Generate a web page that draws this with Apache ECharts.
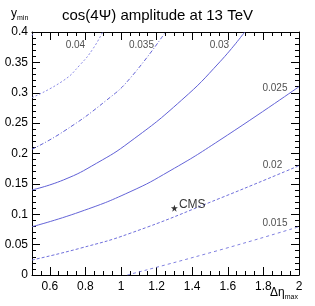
<!DOCTYPE html>
<html>
<head>
<meta charset="utf-8">
<script src="https://cdn.jsdelivr.net/npm/echarts@6/dist/echarts.min.js"></script>
<style>html,body{margin:0;padding:0;background:#fff;}#c{width:315px;height:306px;}</style>
</head>
<body>
<div id="c"></div>
<script>
// ---- data ----
const titleText = 'cos(4\u03A8) amplitude at 13 TeV';
const contourLevels = ['0.045', '0.04', '0.035', '0.03', '0.025', '0.02', '0.015'];
const c045X = [0.5, 0.511];
const c045Y = [0.394, 0.4];
const c040X = [0.5, 0.676, 0.77, 0.844, 0.9];
const c040Y = [0.292, 0.320, 0.346, 0.373, 0.402];
const c035X = [0.5, 0.676, 0.92, 1.051, 1.25];
const c035Y = [0.207, 0.236, 0.288, 0.3238, 0.4];
const c030X = [0.5, 0.676, 0.863, 1.051, 1.341, 1.556, 1.695];
const c030Y = [0.14, 0.1564, 0.184, 0.2194, 0.288, 0.351, 0.4];
const c025X = [0.5, 0.77, 1.051, 1.275, 1.556, 2.0];
const c025Y = [0.0795, 0.104, 0.137, 0.1715, 0.2222, 0.31];
const c020X = [0.5, 0.77, 1.051, 1.556, 2.0];
const c020Y = [0.0247, 0.044, 0.0686, 0.1263, 0.18];
const c015X = [1.035, 1.556, 2.0];
const c015Y = [0, 0.0412, 0.0795];
const cmsPoint = [1.3, 0.11];
const cmsLabel = 'CMS';
const xTickLabels = [0.6, 0.8, 1.0, 1.2, 1.4, 1.6, 1.8, 2.0];
const yTickLabels = [0, 0.05, 0.1, 0.15, 0.2, 0.25, 0.3, 0.35, 0.4];

// ---- chart ----
const zip = (xs, ys) => xs.map((x, i) => [x, ys[i]]);
const curves = [
  {x: c045X, y: c045Y, type: [2, 2], color: '#8a8ae6'},
  {x: c040X, y: c040Y, type: [2, 2], color: '#8a8ae6'},
  {x: c035X, y: c035Y, type: [4, 2, 1, 2], color: '#6363d6'},
  {x: c030X, y: c030Y, type: 'solid', color: '#6060d6'},
  {x: c025X, y: c025Y, type: 'solid', color: '#6464d8'},
  {x: c020X, y: c020Y, type: [3, 2], color: '#7070dc'},
  {x: c015X, y: c015Y, type: [3, 3], color: '#8080e0'}
];
// label anchors (data coordinates) for contour values, matched by level index
const labelAnchors = [null, [0.744, 0.378], [1.115, 0.378], [1.553, 0.378], [1.865, 0.307], [1.851, 0.181], [1.865, 0.0848]];

const FONT = 'Liberation Sans';
const baseX = {type: 'value', min: 0.5, max: 2, gridIndex: 0, splitLine: {show: false}};
const baseY = {type: 'value', min: 0, max: 0.4, gridIndex: 0, splitLine: {show: false}};
const line = {show: true, lineStyle: {color: '#000', width: 1}};

const series = curves.map((c, i) => ({
  type: 'line', data: zip(c.x, c.y), smooth: 0.5, symbol: 'none', clip: true,
  lineStyle: {color: c.color, width: 1, type: c.type}, silent: true, z: 3
}));
series.push({
  type: 'scatter', symbolSize: 0, silent: true, z: 4,
  data: contourLevels.map((t, i) => labelAnchors[i] ? [labelAnchors[i][0], labelAnchors[i][1], t] : null).filter(Boolean),
  label: {show: true, position: 'inside', formatter: p => p.data[2], fontFamily: FONT, fontSize: 10, color: '#222'}
});
series.push({
  type: 'scatter', silent: true, z: 5,
  symbol: 'path://M0,-10 L2.35,-3.24 L9.51,-3.09 L3.8,1.24 L5.88,8.09 L0,4 L-5.88,8.09 L-3.8,1.24 L-9.51,-3.09 L-2.35,-3.24 Z',
  symbolSize: 7, itemStyle: {color: '#000'},
  data: [[cmsPoint[0], cmsPoint[1], cmsLabel]],
  label: {show: true, position: 'right', distance: 1, formatter: p => p.data[2], fontFamily: FONT, fontSize: 12, color: '#000', offset: [0, -3]}
});

const chart = echarts.init(document.getElementById('c'), null, {renderer: 'canvas'});
chart.setOption({
  animation: false,
  backgroundColor: '#fff',
  title: {text: titleText, left: 'center', top: 3, textStyle: {fontFamily: FONT, fontSize: 15, fontWeight: 'normal', color: '#000'}},
  grid: {left: 32, top: 32, right: 16, bottom: 31, containLabel: false},
  xAxis: [
    Object.assign({}, baseX, {position: 'bottom', interval: 0.05, axisLine: line,
      axisTick: {show: true, inside: true, length: 4, lineStyle: {color: '#000'}},
      axisLabel: {show: true, customValues: xTickLabels, margin: 6, fontFamily: FONT, fontSize: 12, color: '#000', formatter: v => String(+v.toFixed(2))}}),
    Object.assign({}, baseX, {position: 'bottom', axisLine: {show: false},
      axisTick: {show: true, inside: true, length: 8, customValues: xTickLabels, lineStyle: {color: '#000'}},
      axisLabel: {show: false}}),
    Object.assign({}, baseX, {position: 'top', interval: 0.05, axisLine: line,
      axisTick: {show: true, inside: true, length: 4, lineStyle: {color: '#000'}}, axisLabel: {show: false}}),
    Object.assign({}, baseX, {position: 'top', axisLine: {show: false},
      axisTick: {show: true, inside: true, length: 8, customValues: xTickLabels, lineStyle: {color: '#000'}},
      axisLabel: {show: false}})
  ],
  yAxis: [
    Object.assign({}, baseY, {position: 'left', interval: 0.05, axisLine: line,
      axisTick: {show: true, inside: true, length: 8, lineStyle: {color: '#000'}},
      minorTick: {show: true, splitNumber: 5, length: 4, lineStyle: {color: '#000'}},
      axisLabel: {show: true, margin: 4, fontFamily: FONT, fontSize: 12, color: '#000', formatter: v => String(+v.toFixed(2))}}),
    Object.assign({}, baseY, {position: 'right', interval: 0.05, axisLine: line,
      axisTick: {show: true, inside: true, length: 8, lineStyle: {color: '#000'}},
      minorTick: {show: true, splitNumber: 5, length: 4, lineStyle: {color: '#000'}},
      axisLabel: {show: false}})
  ],
  graphic: [
    {type: 'text', left: 11, top: 8, style: {text: '{a|y}{b|min}', rich: {a: {fontFamily: FONT, fontSize: 12, color: '#000'}, b: {fontFamily: FONT, fontSize: 7, color: '#000', padding: [9, 0, 0, 0]}}}},
    {type: 'text', left: 270, top: 287, style: {text: '{a|\u0394\u03B7}{b|max}', rich: {a: {fontFamily: FONT, fontSize: 12, color: '#000'}, b: {fontFamily: FONT, fontSize: 7, color: '#000', padding: [9, 0, 0, 0]}}}}
  ],
  series: series
});
</script>
</body>
</html>
